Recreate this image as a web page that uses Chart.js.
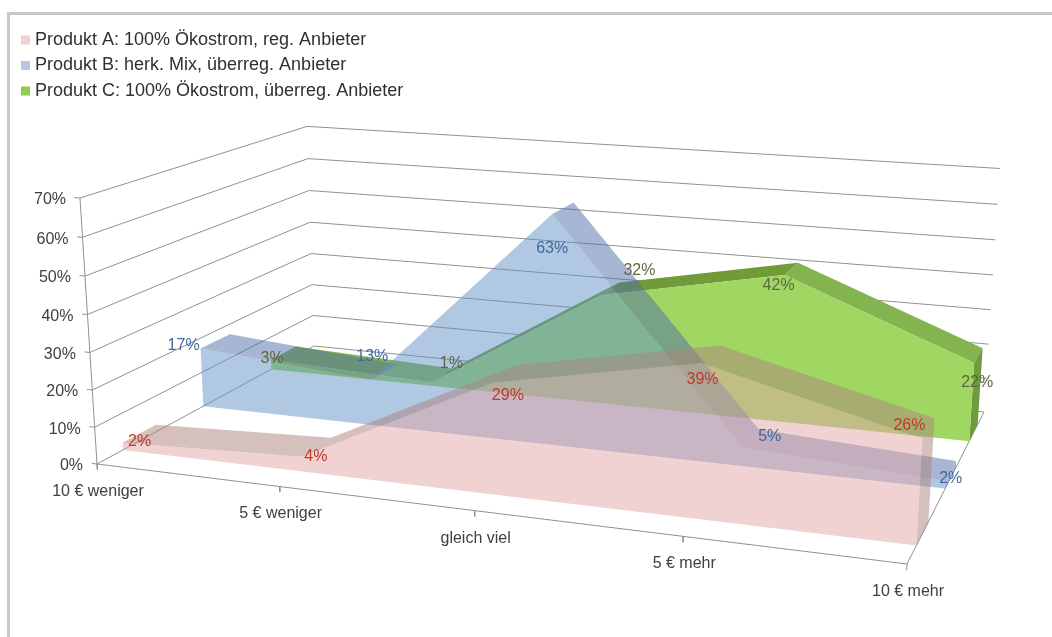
<!DOCTYPE html>
<html>
<head>
<meta charset="utf-8">
<style>
  html, body { margin: 0; background: #fff; }
  #frame { position: absolute; left: 7px; top: 12px; right: 0; bottom: 0; border-left: 3px solid #c8c8c8; border-top: 3px solid #c8c8c8; }
  canvas { position: absolute; left: 0; top: 0; }
</style>
<script src="https://cdn.jsdelivr.net/npm/chart.js@4"></script>
</head>
<body>
<div id="frame"></div>
<canvas id="chart" width="1052" height="637"></canvas>
<script>
//------------------------------------------------------------------------------
// data
//------------------------------------------------------------------------------
var categories = ["10 € weniger", "5 € weniger", "gleich viel", "5 € mehr", "10 € mehr"];
var yTicks = [0, 10, 20, 30, 40, 50, 60, 70];
var seriesNames = [
  "Produkt A: 100% Ökostrom, reg. Anbieter",
  "Produkt B: herk. Mix, überreg. Anbieter",
  "Produkt C: 100% Ökostrom, überreg. Anbieter"
];
var produktA = [2, 4, 29, 39, 26];
var produktB = [17, 13, 63, 5, 2];
var produktC = [3, 1, 32, 42, 22];

//------------------------------------------------------------------------------
// box corners on the page and the perspective mapping
//------------------------------------------------------------------------------
var floor = [[97, 464], [907, 564], [984, 412], [314, 346]];
var vanish = [534, 7303];
var topLeft = [80, 198];
var yMax = 70;

function quadMatrix(q) {
  var sx = q[0][0] - q[1][0] + q[2][0] - q[3][0];
  var sy = q[0][1] - q[1][1] + q[2][1] - q[3][1];
  var dx1 = q[1][0] - q[2][0], dx2 = q[3][0] - q[2][0];
  var dy1 = q[1][1] - q[2][1], dy2 = q[3][1] - q[2][1];
  var den = dx1 * dy2 - dx2 * dy1;
  var g = (sx * dy2 - dx2 * sy) / den;
  var h = (dx1 * sy - sx * dy1) / den;
  return {
    a: q[1][0] - q[0][0] + g * q[1][0], b: q[3][0] - q[0][0] + h * q[3][0], c: q[0][0],
    d: q[1][1] - q[0][1] + g * q[1][1], e: q[3][1] - q[0][1] + h * q[3][1], f: q[0][1],
    g: g, h: h
  };
}
var m = quadMatrix(floor);
var k = (topLeft[1] - floor[0][1]) / (vanish[1] - topLeft[1]);

// cat: 0..n-1 along the front, depth: 0..1 into the box, val: percent
function project(cat, depth, val) {
  var u = cat / (categories.length - 1);
  var z = k * val / yMax;
  var w = m.g * u + m.h * depth + 1 + z;
  return {
    x: (m.a * u + m.b * depth + m.c + z * vanish[0]) / w,
    y: (m.d * u + m.e * depth + m.f + z * vanish[1]) / w
  };
}

//------------------------------------------------------------------------------
// layers, painted back to front
//------------------------------------------------------------------------------
var layers = [];
function addLine(points) {
  layers.push({ data: points, showLine: true, borderColor: "#909090", borderWidth: 1,
    pointRadius: 0, fill: false, clip: false });
}
function addFace(points, color, label) {
  layers.push({ label: label, data: points, showLine: true, backgroundColor: color,
    borderWidth: 0, borderColor: color, pointRadius: 0, fill: "shape", clip: false });
}

var last = categories.length - 1;
yTicks.forEach(function(t) {
  addLine([project(0, 0, t), project(0, 1, t), project(last, 1, t)]);
  addLine([project(-0.03, 0, t), project(0, 0, t)]);
});
addLine([project(0, 0, 0), project(0, 0, yMax)]);
addLine([project(0, 0, 0), project(last, 0, 0), project(last, 1, 0)]);
categories.forEach(function(c, i) {
  addLine([project(i, 0, 0), project(i, 0, -1.5)]);
});

function signedArea(p) {
  var s = 0;
  for (var i = 0; i < p.length; i++) {
    var q = p[(i + 1) % p.length];
    s += p[i].x * q.y - q.x * p[i].y;
  }
  return s;
}

function addSlab(values, front, back, faceColor, riseColor, fallColor, sideColor, label) {
  // top ribbon, skipped where a steep rise turns it away from the viewer
  values.forEach(function(v, i) {
    if (i === last) return;
    var n = values[i + 1];
    var quad = [project(i, front, v), project(i + 1, front, n), project(i + 1, back, n), project(i, back, v)];
    if (signedArea(quad) < 0) addFace(quad, n > v ? riseColor : fallColor);
  });
  addFace([project(last, front, 0), project(last, back, 0), project(last, back, values[last]), project(last, front, values[last])], sideColor);
  var face = values.map(function(v, i) { return project(i, front, v); });
  for (var i = last; i >= 0; i--) face.push(project(i, front, 0));
  addFace(face, faceColor, label);
}

addSlab(produktC, 0.77, 0.90, "rgb(160,214,98)", "rgb(112,155,56)", "rgb(132,180,80)", "rgb(110,155,60)", seriesNames[2]);
addSlab(produktB, 0.44, 0.575, "rgba(97,145,197,0.5)", "rgba(80,110,165,0.5)", "rgba(80,110,165,0.5)", "rgba(80,110,165,0.5)", seriesNames[1]);
addSlab(produktA, 0.10, 0.235, "rgba(225,165,167,0.5)", "rgba(173,130,125,0.5)", "rgba(173,130,125,0.5)", "rgba(173,130,125,0.5)", seriesNames[0]);

layers.forEach(function(l, i) { l.order = layers.length - i; });

//------------------------------------------------------------------------------
// axis texts and value labels
//------------------------------------------------------------------------------
// nudge: pixels from the projected front vertex to where each label sits
var valueLabels = [
  { values: produktA, depth: 0.10, color: "#c0392b",
    nudge: [[17, -1], [14, 0], [15, 13], [1, 17], [-13, -13]] },
  { values: produktB, depth: 0.44, color: "#3f6a9f",
    nudge: [[-17, -3], [1, -23], [0, 35], [27, -11], [5, -2]] },
  { values: produktC, depth: 0.77, color: "#5f6840",
    nudge: [[1, -1], [20, -19], [38, -24], [-6, 11], [3, 19]] }
];
var textFont = "16px 'Liberation Sans'";
var legendColors = { [seriesNames[0]]: "#f0d2d3", [seriesNames[1]]: "#b0c8e2", [seriesNames[2]]: "#8fcf50" };

var boxTexts = {
  id: "boxTexts",
  afterLayout: function(chart) {
    chart.legend.left = 17.5;
    chart.legend.top = 23.5;
  },
  afterDatasetsDraw: function(chart) {
    var ctx = chart.ctx, sx = chart.scales.x, sy = chart.scales.y;
    ctx.save();
    ctx.font = textFont;
    ctx.textBaseline = "middle";
    ctx.fillStyle = "#404040";
    ctx.textAlign = "right";
    yTicks.forEach(function(t) {
      var p = project(0, 0, t);
      ctx.fillText(t + "%", sx.getPixelForValue(p.x) - 14, sy.getPixelForValue(p.y) + 2);
    });
    ctx.textAlign = "center";
    categories.forEach(function(c, i) {
      var p = project(i, 0, 0);
      ctx.fillText(c, sx.getPixelForValue(p.x) + 1, sy.getPixelForValue(p.y) + 27.5);
    });
    valueLabels.forEach(function(s) {
      ctx.fillStyle = s.color;
      s.values.forEach(function(v, i) {
        var p = project(i, s.depth, v);
        ctx.fillText(v + "%", sx.getPixelForValue(p.x) + s.nudge[i][0], sy.getPixelForValue(p.y) + s.nudge[i][1]);
      });
    });
    ctx.restore();
  }
};

//------------------------------------------------------------------------------
window.onload = function() {
  new Chart(document.getElementById("chart"), {
    type: "scatter",
    data: { datasets: layers },
    options: {
      responsive: false,
      animation: false,
      layout: { padding: 0 },
      scales: {
        x: { type: "linear", display: false, min: 0, max: 1052 },
        y: { type: "linear", display: false, min: 0, max: 637, reverse: true }
      },
      plugins: {
        tooltip: { enabled: false },
        legend: {
          position: "chartArea",
          align: "start",
          labels: {
            boxWidth: 1,
            boxHeight: 1,
            padding: 7.5,
            color: "#303030",
            font: { family: "'Liberation Sans'", size: 18 },
            generateLabels: function(chart) {
              return Chart.defaults.plugins.legend.labels.generateLabels(chart)
                .filter(function(item) { return !!item.text; })
                .map(function(item) {
                  item.fillStyle = item.strokeStyle = legendColors[item.text];
                  item.lineWidth = 8;
                  return item;
                });
            }
          }
        }
      }
    },
    plugins: [boxTexts]
  });
};
</script>
</body>
</html>
